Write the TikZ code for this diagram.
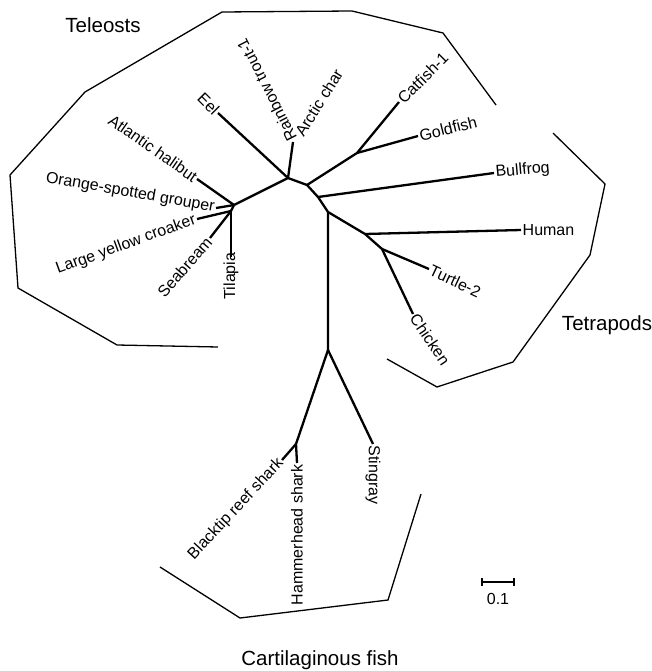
\documentclass[tikz,border=0pt]{standalone}
\usepackage{fontspec}
\setmainfont{Liberation Sans}
\begin{document}
\begin{tikzpicture}[x=1pt,y=-1pt,
  br/.style={line width=2.3pt,line join=round},
  hull/.style={line width=1.3pt,line join=miter},
  leaf/.style={font=\fontsize{16}{18}\selectfont,inner sep=1.5pt},
  grp/.style={font=\fontsize{20.5}{23}\selectfont,inner sep=0pt}]
\useasboundingbox (0,0) rectangle (652,671);
% tree coordinates
\coordinate (T1) at (234,205);
\coordinate (T2) at (231,211);
\coordinate (B) at (288,178);
\coordinate (C1) at (307,185);
\coordinate (C2) at (318,197);
\coordinate (C3) at (328,212);
\coordinate (CF) at (357,153);
\coordinate (AM) at (365,234);
\coordinate (BT) at (382,249);
\coordinate (SN) at (328,350);
\coordinate (SH) at (296,444);
% tips
\coordinate (eel) at (218,113);
\coordinate (trout) at (293,142);
\coordinate (halibut) at (197,179);
\coordinate (grouper) at (216,208);
\coordinate (croaker) at (197,219);
\coordinate (seabream) at (210,238);
\coordinate (tilapia) at (231,257);
\coordinate (catfish) at (399,102);
\coordinate (goldfish) at (418,136);
\coordinate (bullfrog) at (494,173);
\coordinate (human) at (521,230);
\coordinate (turtle) at (429,269);
\coordinate (chicken) at (413,314);
\coordinate (stingray) at (373,444);
\coordinate (blacktip) at (282,460);
\coordinate (hammer) at (297,463);
% branches
\draw[br] (T1) -- (B) -- (C1) -- (C2) -- (C3) -- (SN);
\draw[br] (T1) -- (T2);
\draw[br] (B) -- (eel);
\draw[br] (B) -- (trout);
\draw[br] (T1) -- (halibut);
\draw[br] (T1) -- (grouper);
\draw[br] (T2) -- (croaker);
\draw[br] (T2) -- (seabream);
\draw[br] (T2) -- (tilapia);
\draw[br] (C1) -- (CF);
\draw[br] (CF) -- (catfish);
\draw[br] (CF) -- (goldfish);
\draw[br] (C2) -- (bullfrog);
\draw[br] (C3) -- (AM);
\draw[br] (AM) -- (human);
\draw[br] (AM) -- (BT);
\draw[br] (BT) -- (turtle);
\draw[br] (BT) -- (chicken);
\draw[br] (SN) -- (SH);
\draw[br] (SN) -- (stingray);
\draw[br] (SH) -- (blacktip);
\draw[br] (SH) -- (hammer);
% leaf labels
\node[leaf,anchor=east,rotate=-45] (Leel) at (eel) {Eel};
\node[leaf,anchor=west,rotate=117] (Ltrout) at (trout) {Rainbow trout-1};
\node[leaf,anchor=west,rotate=58] (Larctic) at (298,136) {Arctic char};
\node[leaf,anchor=east,rotate=-35] (Lhalibut) at (halibut) {Atlantic halibut};
\node[leaf,anchor=east,rotate=-10] (Lgrouper) at (grouper) {Orange-spotted grouper};
\node[leaf,anchor=east,rotate=20] (Lcroaker) at (croaker) {Large yellow croaker};
\node[leaf,anchor=east,rotate=49] (Lseabream) at (seabream) {Seabream};
\node[leaf,anchor=east,rotate=90] (Ltilapia) at ([yshift=6]tilapia) {Tilapia};
\node[leaf,anchor=west,rotate=45] (Lcatfish) at (catfish) {Catfish-1};
\node[leaf,anchor=west,rotate=14] (Lgoldfish) at (goldfish) {Goldfish};
\node[leaf,anchor=west,rotate=5] (Lbullfrog) at (bullfrog) {Bullfrog};
\node[leaf,anchor=west] (Lhuman) at (human) {Human};
\node[leaf,anchor=west,rotate=-25] (Lturtle) at (turtle) {Turtle-2};
\node[leaf,anchor=west,rotate=-56] (Lchicken) at (chicken) {Chicken};
\node[leaf,anchor=west,rotate=-90] (Lstingray) at (stingray) {Stingray};
\node[leaf,anchor=east,rotate=47] (Lblacktip) at (blacktip) {Blacktip reef shark};
\node[leaf,anchor=east,rotate=90] (Lhammer) at (hammer) {Hammerhead shark};
% group hulls
\draw[hull] (218,347) -- (117,345) -- (18,288) -- (10,175) -- (85,92) -- (222,12) -- (352,11) -- (443,33) -- (496,105);
\draw[hull] (553,133) -- (605,184) -- (590,255) -- (513,362) -- (437,387) -- (387,359);
\draw[hull] (160,567) -- (240,618) -- (388,600) -- (421,494);
% group labels
\node[grp] (Gtel) at (103,25) {Teleosts};
\node[grp] (Gtet) at (607,325) {Tetrapods};
\node[grp] (Gcar) at (320,660) {Cartilaginous fish};
% scale bar
\coordinate (s1) at (482,582);
\coordinate (s2) at (514,582);
\draw[line width=1.8pt] (s1) -- (s2);
\draw[line width=1.3pt] ([yshift=-4]s1) -- ([yshift=4]s1) ([yshift=-4]s2) -- ([yshift=4]s2);
\node[leaf] (Lscale) at (498,599) {0.1};
\end{tikzpicture}
\end{document}
